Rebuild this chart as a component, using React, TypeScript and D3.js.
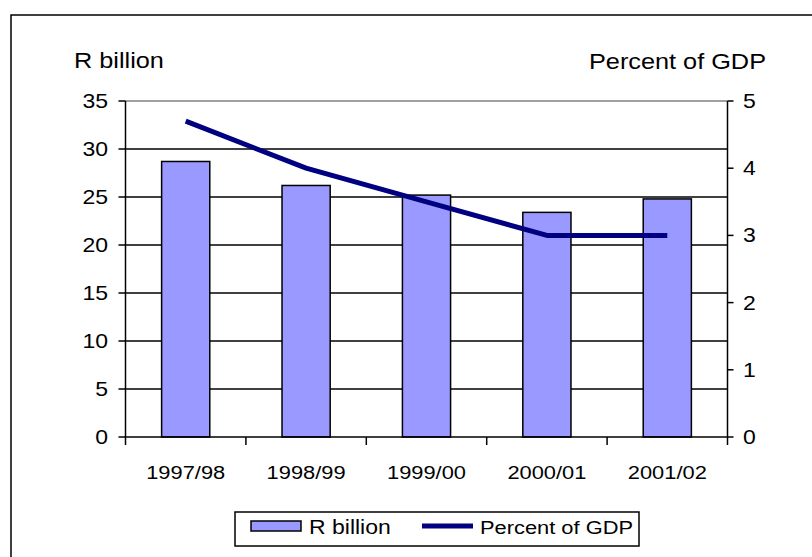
import React from "react";
import * as d3 from "d3";

const categories = ["1997/98", "1998/99", "1999/00", "2000/01", "2001/02"];
const rBillion = [28.7, 26.2, 25.2, 23.4, 24.8];
const pctGDP = [4.7, 4.0, 3.5, 3.0, 3.0];
const leftTicks = [0, 5, 10, 15, 20, 25, 30, 35];
const rightTicks = [0, 1, 2, 3, 4, 5];
const seriesNames = ["R billion", "Percent of GDP"];

const W = 812;
const H = 557;
const plot = { left: 125.5, right: 727.5, top: 101, bottom: 437 };
const FONT = "'Liberation Sans', Arial, sans-serif";
const SX = 1.15;

function T(props: { x: number; y: number; fs: number; anchor?: string; children: React.ReactNode }) {
  const { x, y, fs, anchor = "start", children } = props;
  return (
    <text
      transform={`translate(${x},${y}) scale(${SX},1)`}
      textAnchor={anchor}
      fontFamily={FONT}
      fontSize={fs}
      fill="#000"
    >
      {children}
    </text>
  );
}

export default function App() {
  const x = d3.scaleBand<string>().domain(categories).range([plot.left, plot.right]).padding(0);
  const bw = x.bandwidth();
  const yL = d3.scaleLinear().domain([0, 35]).range([plot.bottom, plot.top]);
  const yR = d3.scaleLinear().domain([0, 5]).range([plot.bottom, plot.top]);
  const cx = (c: string) => (x(c) as number) + bw / 2;

  const linePath = d3
    .line<number>()
    .x((_, i) => cx(categories[i]))
    .y((d) => yR(d))(pctGDP) as string;

  const boundaries = categories.map((c) => x(c) as number).concat([plot.right]);

  return (
    <svg
      width={W}
      height={H}
      style={{ position: "absolute", left: 0, top: 0, display: "block", background: "#fff" }}
    >
      <rect x={0} y={0} width={W} height={H} fill="#fff" />
      {/* outer chart border */}
      <rect x={11} y={15} width={W + 20} height={H + 20} fill="none" stroke="#000" strokeWidth={1.5} />

      {/* gridlines */}
      {leftTicks
        .filter((t) => t !== 0 && t !== 35)
        .map((t) => (
          <line key={t} x1={plot.left} x2={plot.right} y1={yL(t)} y2={yL(t)} stroke="#000" strokeWidth={1.3} />
        ))}
      <line x1={plot.left} x2={plot.right} y1={yL(35)} y2={yL(35)} stroke="#808080" strokeWidth={1.5} />

      {/* bars */}
      {categories.map((c, i) => (
        <rect
          key={c}
          x={(x(c) as number) + bw * 0.3}
          width={bw * 0.4}
          y={yL(rBillion[i])}
          height={yL(0) - yL(rBillion[i])}
          fill="#9999FF"
          stroke="#000"
          strokeWidth={1.5}
        />
      ))}

      {/* axes */}
      <line x1={plot.left} x2={plot.left} y1={plot.top} y2={plot.bottom} stroke="#000" strokeWidth={1.5} />
      <line x1={plot.right} x2={plot.right} y1={plot.top} y2={plot.bottom} stroke="#000" strokeWidth={1.5} />
      <line x1={plot.left} x2={plot.right} y1={plot.bottom} y2={plot.bottom} stroke="#000" strokeWidth={1.5} />

      {/* left ticks */}
      {leftTicks.map((t) => (
        <g key={"l" + t}>
          <line x1={plot.left - 7} x2={plot.left} y1={yL(t)} y2={yL(t)} stroke="#000" strokeWidth={1.5} />
          <T x={108} y={yL(t) + 7} fs={20} anchor="end">
            {t}
          </T>
        </g>
      ))}
      {/* right ticks */}
      {rightTicks.map((t) => (
        <g key={"r" + t}>
          <line x1={plot.right} x2={plot.right + 6} y1={yR(t)} y2={yR(t)} stroke="#000" strokeWidth={1.5} />
          <T x={743} y={yR(t) + 7} fs={20}>
            {t}
          </T>
        </g>
      ))}
      {/* category ticks */}
      {boundaries.map((b, i) => (
        <line key={"c" + i} x1={b} x2={b} y1={plot.bottom} y2={plot.bottom + 8} stroke="#000" strokeWidth={1.5} />
      ))}
      {categories.map((c) => (
        <T key={"cl" + c} x={cx(c)} y={479} fs={19} anchor="middle">
          {c}
        </T>
      ))}

      {/* line series */}
      <path d={linePath} fill="none" stroke="#000080" strokeWidth={5} strokeLinejoin="round" strokeLinecap="butt" />

      {/* axis titles */}
      <T x={74} y={68} fs={22}>
        {seriesNames[0]}
      </T>
      <T x={766} y={69} fs={22} anchor="end">
        {seriesNames[1]}
      </T>

      {/* legend */}
      <rect x={235} y={512} width={404} height={34} fill="#fff" stroke="#000" strokeWidth={1.5} />
      <rect x={251} y={521} width={50} height={10} fill="#9999FF" stroke="#000" strokeWidth={1.5} />
      <T x={309} y={534} fs={20}>
        {seriesNames[0]}
      </T>
      <line x1={422} x2={473} y1={526} y2={526} stroke="#000080" strokeWidth={5} />
      <T x={480} y={534} fs={19}>
        {seriesNames[1]}
      </T>
    </svg>
  );
}
